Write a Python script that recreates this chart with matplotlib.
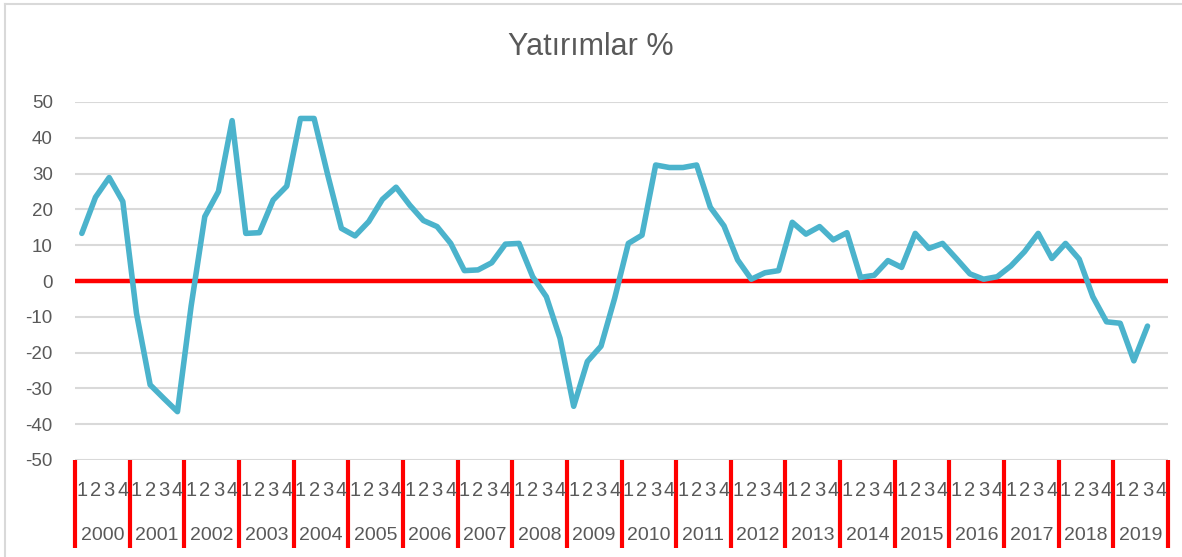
import matplotlib.pyplot as plt
from matplotlib.lines import Line2D
import matplotlib.transforms as mtransforms

# quarterly investment growth (%), 2000Q1 .. 2019Q3
years = [str(y) for y in range(2000, 2020)]
quarters = ["1", "2", "3", "4"]
values = [
    13.3, 23.4, 28.9, 22.2,
    -9.0, -29.0, -32.8, -36.5,
    -7.0, 18.0, 25.0, 44.8,
    13.3, 13.5, 22.6, 26.5,
    45.4, 45.4, 29.6, 14.7,
    12.6, 16.6, 22.8, 26.2,
    21.2, 16.9, 15.2, 10.5,
    2.9, 3.1, 5.1, 10.3,
    10.5, 1.2, -4.4, -16.0,
    -35.0, -22.5, -18.2, -4.8,
    10.5, 12.8, 32.4, 31.7,
    31.7, 32.4, 20.6, 15.4,
    5.9, 0.5, 2.3, 2.9,
    16.4, 13.1, 15.2, 11.5,
    13.5, 1.0, 1.6, 5.7,
    3.8, 13.3, 9.1, 10.5,
    6.3, 2.0, 0.5, 1.2,
    4.2, 8.2, 13.3, 6.3,
    10.5, 6.1, -4.4, -11.4,
    -11.8, -22.3, -12.6,
]
yticks = list(range(-50, 51, 10))

grey = "#595959"
plt.rcParams['font.family'] = ['Liberation Sans', 'DejaVu Sans']

fig = plt.figure(figsize=(11.82, 5.57), dpi=100)
ax = fig.add_axes([75 / 1182, 1 - 460 / 557, 1093 / 1182, 358 / 557])

n_slots = len(years) * 4
ax.set_xlim(-0.5, n_slots - 0.5)
ax.set_ylim(-50, 50)
ax.set_yticks(yticks)
ax.set_yticklabels([str(t) for t in yticks], fontsize=13.5, color=grey)
ax.tick_params(axis='y', length=0, pad=16)
ax.set_xticks([])
for s in ax.spines.values():
    s.set_visible(False)
ax.grid(axis='y', color="#D9D9D9", linewidth=1.5)
ax.set_axisbelow(True)

ax.axhline(0, color="#FF0000", linewidth=3.2, zorder=2)
ax.plot(range(len(values)), values, color="#4BB3CC", linewidth=4.0,
        solid_joinstyle='round', solid_capstyle='round', zorder=3)

# two-level category axis
trans = mtransforms.blended_transform_factory(ax.transData, ax.transAxes)
sep_bottom = -(548 - 460) / 358
for k in range(len(years) + 1):
    ax.plot([k * 4 - 0.5] * 2, [0, sep_bottom], color="#FF0000", linewidth=3.0,
            transform=trans, clip_on=False, solid_capstyle='butt')
for i, yr in enumerate(years):
    for j, q in enumerate(quarters):
        ax.text(i * 4 + j, -(491 - 460) / 358, q, transform=trans, ha='center',
                va='center', fontsize=14.5, color=grey)
    ax.text(i * 4 + 1.5, -(535 - 460) / 358, yr, transform=trans, ha='center',
            va='center', fontsize=14, color=grey)

fig.text(0.5, 1 - 47 / 557, "Yatırımlar %", ha='center', va='center',
         fontsize=22, color=grey)

# chart area border (left and top edges visible)
fig.add_artist(Line2D([5 / 1182, 5 / 1182], [0, 1 - 4 / 557], color="#D9D9D9", linewidth=1.5))
fig.add_artist(Line2D([5 / 1182, 1], [1 - 4 / 557, 1 - 4 / 557], color="#D9D9D9", linewidth=1.5))

fig.savefig("out.png", dpi=100, facecolor="white")
